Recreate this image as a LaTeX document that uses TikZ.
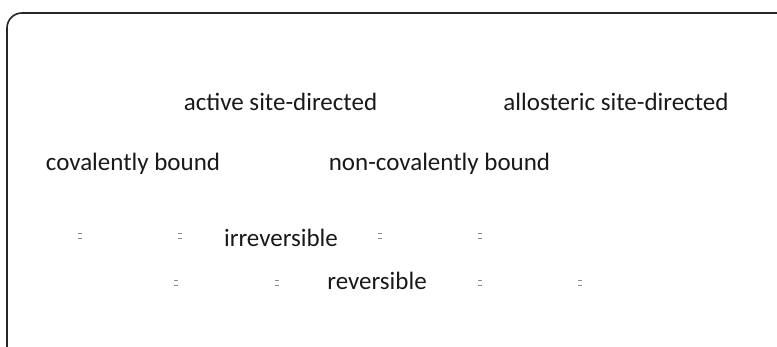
\documentclass[tikz,border=0pt]{standalone}
\usepackage{fontspec}
\setmainfont{Carlito}
\begin{document}
\begin{tikzpicture}[x=1pt,y=-1pt,
  lbl/.style={inner sep=0pt,anchor=base,font=\fontsize{25}{30}\selectfont,text=black!90},
  tick/.style={draw=black!45,line width=0.9pt}]
\useasboundingbox (0,0) rectangle (777,347);
% open frame: top edge and left edge joined by a rounded corner
\draw[line width=1.6pt,black!85] (777,13) -- (22,13) arc[start angle=270,end angle=180,radius=15] -- (7,347);
% labels
\node[lbl] (act) at (280.5,111) {active site-directed};
\node[lbl] (allo) at (616,111) {allosteric site-directed};
\node[lbl] (cov) at (133,171) {covalently bound};
\node[lbl] (ncov) at (439.5,171) {non-covalently bound};
\node[lbl] (irr) at (281,247) {irreversible};
\node[lbl] (rev) at (377,290) {reversible};
% small paired marks beside the lower labels
\foreach \x/\y in {80/233,180/233,380/233,480/233,176/280,277/280,480/280,580/280}{
  \coordinate (m) at (\x,\y);
  \draw[tick] ([xshift=-2]m) -- ([xshift=2]m);
  \draw[tick] ([xshift=-2,yshift=-5]m) -- ([xshift=2,yshift=-5]m);
}
\end{tikzpicture}
\end{document}
